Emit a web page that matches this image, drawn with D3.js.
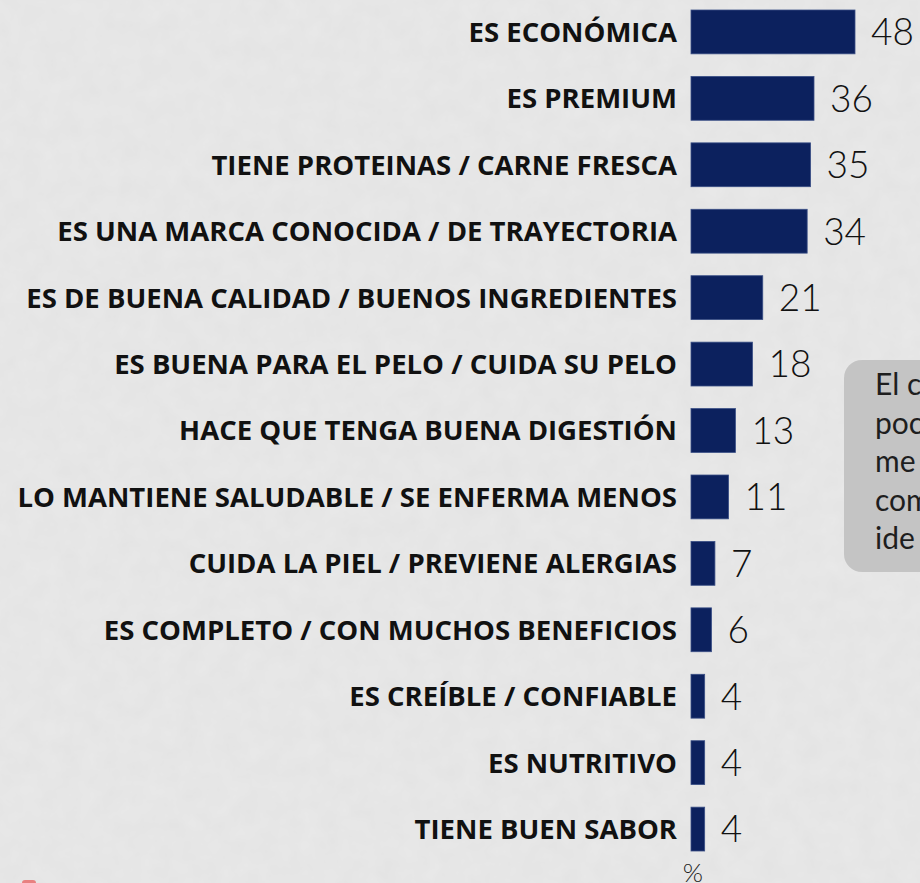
<!DOCTYPE html>
<html>
<head>
<meta charset="utf-8">
<script src="https://cdn.jsdelivr.net/npm/d3@7"></script>
<style>
    html, body { margin: 0; padding: 0; background: #e6e6e6; overflow: hidden; }
    svg { display: block; }
</style>
</head>
<body>
<div id="chart"></div>
<script>
var categories = [
    'ES ECONÓMICA',
    'ES PREMIUM',
    'TIENE PROTEINAS / CARNE FRESCA',
    'ES UNA MARCA CONOCIDA / DE TRAYECTORIA',
    'ES DE BUENA CALIDAD / BUENOS INGREDIENTES',
    'ES BUENA PARA EL PELO / CUIDA SU PELO',
    'HACE QUE TENGA BUENA DIGESTIÓN',
    'LO MANTIENE SALUDABLE / SE ENFERMA MENOS',
    'CUIDA LA PIEL / PREVIENE ALERGIAS',
    'ES COMPLETO / CON MUCHOS BENEFICIOS',
    'ES CREÍBLE / CONFIABLE',
    'ES NUTRITIVO',
    'TIENE BUEN SABOR'
];
var values = [48, 36, 35, 34, 21, 18, 13, 11, 7, 6, 4, 4, 4];
var unitLabel = '%';
// only the start of each line of the note is visible at the right edge
var noteLines = ['El c', 'poc', 'me', 'com', 'ide'];

var width = 920;
var height = 883;

var svg = d3.select('#chart').append('svg')
    .attr('width', width)
    .attr('height', height);

// paper-like background
var defs = svg.append('defs');
var noise = defs.append('filter').attr('id', 'paper')
    .attr('x', 0).attr('y', 0).attr('width', '100%').attr('height', '100%');
noise.append('feTurbulence')
    .attr('type', 'fractalNoise')
    .attr('baseFrequency', 0.05)
    .attr('numOctaves', 3)
    .attr('seed', 7);
noise.append('feColorMatrix')
    .attr('type', 'matrix')
    .attr('values', '0 0 0 0 0.6  0 0 0 0 0.6  0 0 0 0 0.6  0 0 0 0.2 0');

svg.append('rect')
    .attr('width', width).attr('height', height)
    .attr('fill', '#e9e9e9');
svg.append('rect')
    .attr('width', width).attr('height', height)
    .attr('filter', 'url(#paper)');

var x = d3.scaleLinear()
    .domain([0, 48])
    .range([691, 855]);

var y = d3.scaleBand()
    .domain(categories)
    .range([10, 851])
    .paddingInner(0.34)
    .paddingOuter(0);

// note box on the right (cut by the edge)
var note = svg.append('g').attr('class', 'note');
note.append('rect')
    .attr('x', 844).attr('y', 360)
    .attr('width', 140).attr('height', 212)
    .attr('rx', 18)
    .attr('fill', '#c4c4c4');
note.selectAll('text')
    .data(noteLines)
    .enter().append('text')
    .attr('x', 875)
    .attr('y', function(d, i) {
        return 395 + i * 38.5;
    })
    .attr('font-family', 'Lato, "DejaVu Sans", sans-serif')
    .attr('font-size', 30)
    .attr('fill', '#1e1e1e')
    .text(function(d) {
        return d;
    });

svg.append('g').attr('class', 'bars')
    .selectAll('rect')
    .data(values)
    .enter().append('rect')
    .attr('x', x(0))
    .attr('y', function(d, i) {
        return y(categories[i]);
    })
    .attr('width', function(d) {
        return x(d) - x(0);
    })
    .attr('height', y.bandwidth())
    .attr('fill', '#0c215e')
    .attr('stroke', '#3a4f86')
    .attr('stroke-width', 0.8);

var labels = svg.append('g').attr('class', 'labels')
    .selectAll('text')
    .data(categories)
    .enter().append('text')
    .attr('x', 677)
    .attr('y', function(d) {
        return y(d) + y.bandwidth() / 2;
    })
    .attr('dy', '0.36em')
    .attr('text-anchor', 'end')
    .attr('font-family', '"Open Sans", "DejaVu Sans", sans-serif')
    .attr('font-weight', 'bold')
    .attr('font-size', 22)
    .attr('fill', '#111')
    .text(function(d) {
        return d;
    });

// fit the longest label to the width seen in the reference
var longest = 0;
labels.each(function() {
    longest = Math.max(longest, this.getComputedTextLength());
});
labels.attr('font-size', 22 * 660 / longest);

svg.append('g').attr('class', 'values')
    .selectAll('text')
    .data(values)
    .enter().append('text')
    .attr('x', function(d) {
        return x(d) + 16;
    })
    .attr('y', function(d, i) {
        return y(categories[i]) + y.bandwidth() / 2;
    })
    .attr('dy', '0.36em')
    .attr('font-family', 'Lato, "DejaVu Sans", sans-serif')
    .attr('font-weight', 300)
    .attr('font-size', 37)
    .attr('fill', '#111')
    .text(function(d) {
        return d;
    });

svg.append('text')
    .attr('x', 693)
    .attr('y', 882)
    .attr('text-anchor', 'middle')
    .attr('font-family', 'Lato, "DejaVu Sans", sans-serif')
    .attr('font-weight', 300)
    .attr('font-size', 26)
    .attr('fill', '#222')
    .text(unitLabel);

// small red mark peeking in at the bottom left
svg.append('rect')
    .attr('x', 22).attr('y', 880)
    .attr('width', 14).attr('height', 8)
    .attr('rx', 3)
    .attr('fill', '#e88080');
</script>
</body>
</html>
